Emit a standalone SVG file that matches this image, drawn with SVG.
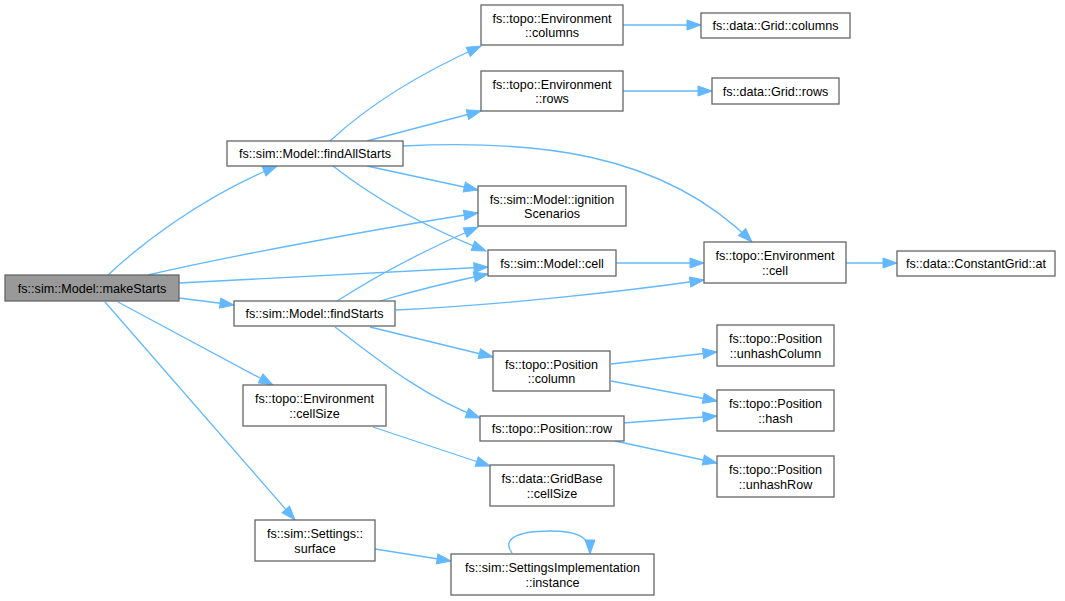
<svg xmlns="http://www.w3.org/2000/svg" width="1065" height="601" viewBox="0 0 1065 601">
<defs>
<style>
.n rect{fill:#ffffff;stroke:#666666;stroke-width:1.3}
.n text{font-family:"Liberation Sans",Helvetica,Arial,sans-serif;font-size:12.6px;fill:#000000;text-anchor:middle}
#n1 rect{fill:#999999}
.e path{fill:none;stroke:#63b8ff;stroke-width:1.3;marker-end:url(#a)}
</style>
<marker id="a" markerUnits="userSpaceOnUse" markerWidth="14" markerHeight="10" refX="14" refY="5" orient="auto" overflow="visible">
<path d="M0,0 L14,5 L0,10 z" fill="#63b8ff" stroke="#63b8ff" stroke-width="1"/>
</marker>
</defs>
<rect width="1065" height="601" fill="#ffffff"/>
<g class="e" id="edges">
<path d="M108,275 C140,245 200,198 277,166"/>
<path d="M148,275 C220,258 380,228 478,213"/>
<path d="M179,283 L488,267"/>
<path d="M179,298 L234,305"/>
<path d="M118,302 L273,385"/>
<path d="M105,302 L295,520"/>
<path d="M330,141 C360,113 405,80 481,46"/>
<path d="M367,141 L481,111"/>
<path d="M403,146 C530,140 660,150 752,242"/>
<path d="M367,166 L478,190"/>
<path d="M333,166 C370,195 420,225 486,251"/>
<path d="M337,301 C370,280 420,252 478,227"/>
<path d="M380,301 C410,292 450,282 488,274"/>
<path d="M396,310 C500,305 620,292 704,280"/>
<path d="M370,327 L493,357"/>
<path d="M335,327 C375,357 420,395 480,418"/>
<path d="M611,364 L717,352"/>
<path d="M611,381 L717,401"/>
<path d="M623,423 L717,416"/>
<path d="M615,441 L717,463"/>
<path d="M623,25 L701,25"/>
<path d="M623,91 L712,91"/>
<path d="M616,263 L704,263"/>
<path d="M846,263 L897,263"/>
<path d="M373,427 L490,466"/>
<path d="M375,549 L451,561"/>
<path d="M512,553 C502,540 515,531 550,531 C578,531 590,537 590,554"/>
</g>
<g class="n" id="n1"><rect x="5" y="275" width="174" height="26"/><text x="92" y="292.5">fs::sim::Model::makeStarts</text></g>
<g class="n" id="n2"><rect x="227" y="141" width="176" height="25"/><text x="315" y="158">fs::sim::Model::findAllStarts</text></g>
<g class="n" id="n3"><rect x="234" y="301" width="161" height="25"/><text x="314.5" y="318">fs::sim::Model::findStarts</text></g>
<g class="n" id="n4"><rect x="481" y="5" width="142" height="40"/><text x="552" y="22.5">fs::topo::Environment</text><text x="552" y="37">::columns</text></g>
<g class="n" id="n5"><rect x="701" y="13" width="149" height="25"/><text x="775.5" y="30">fs::data::Grid::columns</text></g>
<g class="n" id="n6"><rect x="481" y="71" width="142" height="40"/><text x="552" y="88.5">fs::topo::Environment</text><text x="552" y="103">::rows</text></g>
<g class="n" id="n7"><rect x="712" y="78" width="127" height="26"/><text x="775.5" y="95.5">fs::data::Grid::rows</text></g>
<g class="n" id="n8"><rect x="478" y="186" width="148" height="40"/><text x="552" y="203.5">fs::sim::Model::ignition</text><text x="552" y="218">Scenarios</text></g>
<g class="n" id="n9"><rect x="488" y="250" width="128" height="26"/><text x="552" y="267.5">fs::sim::Model::cell</text></g>
<g class="n" id="n10"><rect x="704" y="242" width="142" height="41"/><text x="775" y="260">fs::topo::Environment</text><text x="775" y="274.5">::cell</text></g>
<g class="n" id="n11"><rect x="897" y="251" width="158" height="25"/><text x="976" y="268">fs::data::ConstantGrid::at</text></g>
<g class="n" id="n12"><rect x="717" y="325" width="117" height="41"/><text x="775.5" y="343">fs::topo::Position</text><text x="775.5" y="357.5">::unhashColumn</text></g>
<g class="n" id="n13"><rect x="717" y="390" width="117" height="41"/><text x="775.5" y="408">fs::topo::Position</text><text x="775.5" y="422.5">::hash</text></g>
<g class="n" id="n14"><rect x="717" y="456" width="117" height="41"/><text x="775.5" y="474">fs::topo::Position</text><text x="775.5" y="488.5">::unhashRow</text></g>
<g class="n" id="n15"><rect x="493" y="351" width="117" height="40"/><text x="551.5" y="368.5">fs::topo::Position</text><text x="551.5" y="383">::column</text></g>
<g class="n" id="n16"><rect x="480" y="416" width="144" height="25"/><text x="552" y="433">fs::topo::Position::row</text></g>
<g class="n" id="n17"><rect x="243" y="385" width="143" height="41"/><text x="314.5" y="403">fs::topo::Environment</text><text x="314.5" y="417.5">::cellSize</text></g>
<g class="n" id="n18"><rect x="490" y="465" width="124" height="41"/><text x="552" y="483">fs::data::GridBase</text><text x="552" y="497.5">::cellSize</text></g>
<g class="n" id="n19"><rect x="255" y="520" width="120" height="41"/><text x="315" y="538">fs::sim::Settings::</text><text x="315" y="552.5">surface</text></g>
<g class="n" id="n20"><rect x="451" y="554" width="203" height="41"/><text x="552.5" y="572">fs::sim::SettingsImplementation</text><text x="552.5" y="586.5">::instance</text></g>
</svg>
